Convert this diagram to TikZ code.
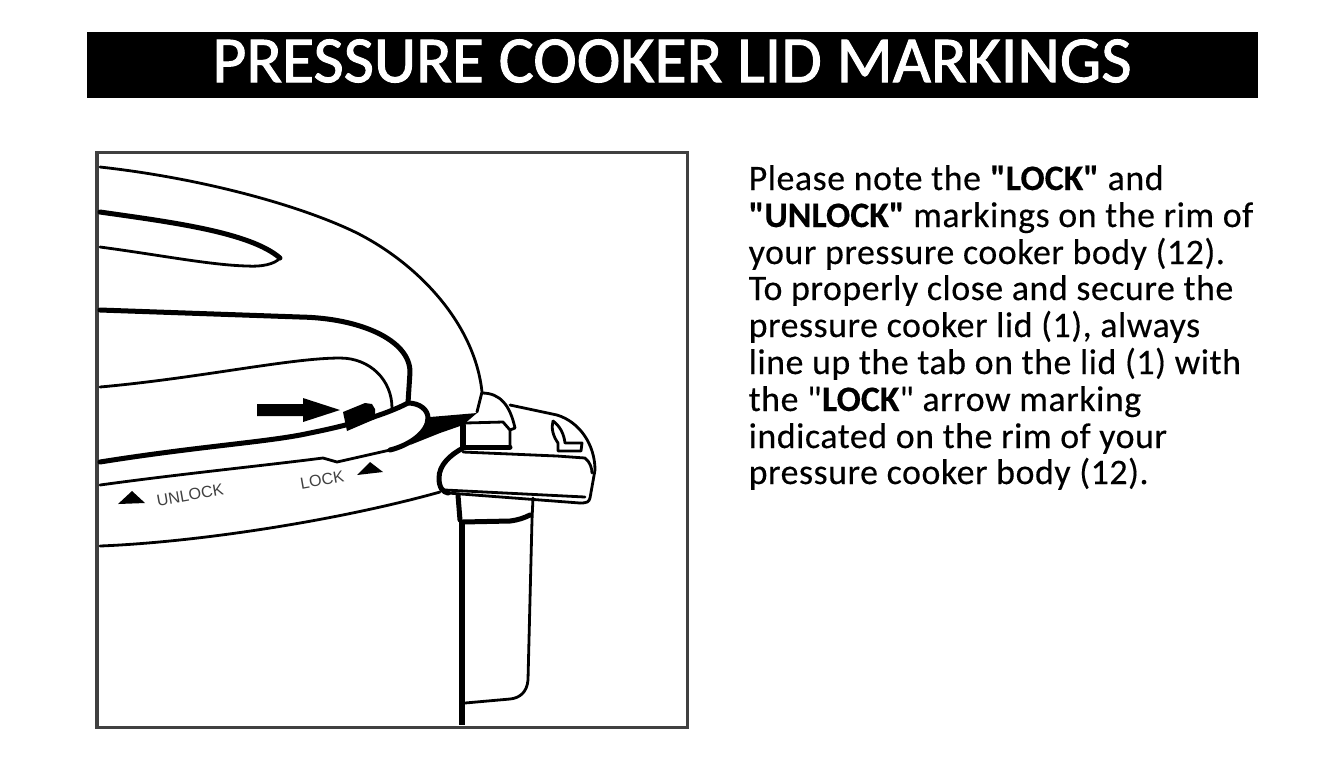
\documentclass[tikz,border=0pt]{standalone}
\usepackage{fontspec}
\setmainfont{Carlito}[Ligatures=TeXOff,LetterSpace=1.5,FakeBold=0.3,BoldFeatures={LetterSpace=0}]
\newfontfamily\titlefont{Carlito}[FakeBold=1.5]
\newfontfamily\labelfont{Liberation Sans}
\tikzset{
  thinline/.style={line width=0.28mm,line cap=round,line join=round},
  thickline/.style={line width=0.5mm,line cap=round,line join=round},
  bodyline/.style={anchor=base west,inner sep=0pt,font=\fontsize{10.2pt}{12pt}\selectfont},
  rimlabel/.style={inner sep=0pt,rotate=10,text=black!75,font=\labelfont\fontsize{4.6pt}{5pt}\selectfont}
}
\begin{document}
\begin{tikzpicture}[x=0.01cm,y=-0.01cm]
  \useasboundingbox (0,0) rectangle (1344,756);

  % title
  \node[fill=black,minimum width=11.71cm,minimum height=0.66cm,inner sep=0pt] (Bar) at (672.5,65) {};
  \node[text=white,inner sep=0pt,font=\titlefont\fontsize{18.7pt}{20pt}\selectfont] (Title) at (672,61) {PRESSURE COOKER LID MARKINGS};

  % frame
  \draw[line width=0.3mm,black!75] (97,152) rectangle (687,727);

  % lid
  \draw[thinline] (100,167) .. controls (200,178) and (300,205) .. (357,233) .. controls (420,265) and (475,325) .. (482,392) -- (477,412);
  \draw[thickline] (100,212) .. controls (170,222) and (250,232) .. (280,258);
  \draw[thinline] (100,247) .. controls (160,255) and (210,265) .. (247,266) .. controls (262,267) and (275,264) .. (280,258);
  \draw[thickline] (100,310) -- (300,317) .. controls (360,318) and (410,340) .. (410,372) -- (408,403);
  \draw[thinline] (100,387) .. controls (200,378) and (290,358) .. (340,358) .. controls (370,358) and (392,380) .. (392,408);

  % arrow and tab
  \fill (257,404) -- (303,404) -- (303,398) -- (340,410) -- (303,422) -- (303,416) -- (257,416) -- cycle;
  \fill (343,412) -- (365,403) -- (372,404) -- (375,409) -- (375,419) -- (347,431) -- cycle;

  % rim
  \draw[thickline] (100,462) .. controls (200,446) and (270,442) .. (310,433) .. controls (350,425) and (385,415) .. (408,403) .. controls (420,403) and (428,410) .. (428,418) .. controls (428,432) and (410,445) .. (390,450);
  \draw[thinline] (100,485) .. controls (180,474) and (260,466) .. (323,458) -- (337,462) -- (390,450);
  \draw[thinline] (100,546) .. controls (200,542) and (340,520) .. (440,492);
  \fill (430,417) -- (477,413) -- (463,425) -- (440,433) -- (410,445) -- (428,427) -- cycle;

  % markings
  \fill (118,504) -- (132,491) -- (145,503) -- cycle;
  \fill (357,475) -- (370,462) -- (383,472) -- cycle;
  \node[rimlabel] (Unlock) at (190,495) {UNLOCK};
  \node[rimlabel] (Lock) at (322,480) {LOCK};

  % latch
  \draw[thickline] (463,425) -- (463,448);
  \draw[thinline] (465,423) -- (503,422) -- (510,430) -- (510,447);
  \draw[thickline] (465,447) -- (510,447);
  \draw[thinline] (482,393) .. controls (500,393) and (510,405) .. (515,428) -- (510,430);
  \draw[thinline] (510,405) -- (557,415) .. controls (580,422) and (595,445) .. (595,470) -- (590,498) .. controls (589,502) and (587,503) .. (580,503);
  \draw[thinline] (553,421) .. controls (551,428) and (553,436) .. (558,443) -- (558,451) -- (581,451) -- (582,443) -- (565,443) .. controls (564,434) and (560,426) .. (553,421);

  % handle
  \draw[thickline] (463,448) .. controls (450,455) and (439,465) .. (439,478) .. controls (439,488) and (443,492) .. (448,493);
  \draw[thinline] (463,452) -- (557,456) -- (585,458) .. controls (590,462) and (592,468) .. (592,473);
  \draw[thinline] (445,490) -- (585,497);
  \draw[thinline] (448,493) -- (580,503);

  % stem
  \draw[thickline] (458,495) -- (460,520);
  \draw[line width=0.6mm] (462,520) -- (462,725);
  \draw[thinline] (533,498) -- (532,520) -- (528,680) .. controls (527,692) and (520,698) .. (510,699) -- (465,703);
  \draw[thickline] (462,522) -- (510,521) .. controls (518,520) and (524,518) .. (530,515);

  % text
  \node[bodyline] (LineA) at (748,190) {Please note the \textbf{"LOCK"} and};
  \node[bodyline] (LineB) at (748,227) {\textbf{"UNLOCK"} markings on the rim of};
  \node[bodyline] (LineC) at (748,264) {your pressure cooker body (12).};
  \node[bodyline] (LineD) at (748,300) {To properly close and secure the};
  \node[bodyline] (LineE) at (748,337) {pressure cooker lid (1), always};
  \node[bodyline] (LineF) at (748,374) {line up the tab on the lid (1) with};
  \node[bodyline] (LineG) at (748,411) {the "\textbf{LOCK}" arrow marking};
  \node[bodyline] (LineH) at (748,448) {indicated on the rim of your};
  \node[bodyline] (LineI) at (748,484) {pressure cooker body (12).};
\end{tikzpicture}
\end{document}
